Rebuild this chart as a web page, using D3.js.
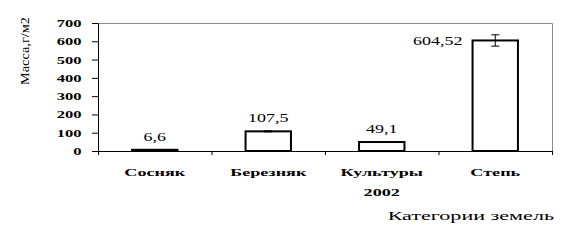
<!DOCTYPE html>
<meta charset="utf-8">
<script src="https://d3js.org/d3.v7.min.js"></script>
<style>
  body { margin: 0; background: #fff; }
  svg text { font-family: "Liberation Serif", "Times New Roman", serif; fill: #000; }
</style>
<div id="chart"></div>
<script>
// data
var categories = ["Сосняк", "Березняк", "Культуры\n2002", "Степь"];
var values = [6.6, 107.5, 49.1, 604.52];
var valueLabels = ["6,6", "107,5", "49,1", "604,52"];
var errors = [0, 3, 0, 31];
var yTicks = [0, 100, 200, 300, 400, 500, 600, 700];

var W = 566, H = 242;
var plotLeft = 98, plotRight = 552, plotTop = 23, plotBottom = 151;

var svg = d3.select("#chart").append("svg")
  .attr("width", W).attr("height", H);

var x = d3.scaleBand().domain(categories).range([plotLeft, plotRight]).padding(0);
var xEdge = d3.scaleLinear().domain([0, categories.length]).range([plotLeft, plotRight]);
var y = d3.scaleLinear().domain([0, 700]).range([plotBottom, plotTop]);

// plot frame (top and right, grey)
svg.append("path")
  .attr("d", "M" + plotLeft + "," + (plotTop + 0.5) + "H" + (plotRight + 0.5) + "V" + plotBottom)
  .attr("fill", "none").attr("stroke", "#8c8c8c").attr("stroke-width", 1);

// y axis
var yAxis = svg.append("g")
  .attr("transform", "translate(" + plotLeft + ",0)")
  .call(d3.axisLeft(y).tickValues(yTicks).tickSize(6).tickSizeOuter(0).tickFormat(d3.format("d")));
yAxis.attr("font-family", null);
yAxis.selectAll("text")
  .attr("x", null)
  .attr("dy", "0.35em")
  .attr("transform", "translate(-16.5,0) scale(1.65,1)")
  .style("font-size", "10px")
  .style("font-weight", "bold");

// x axis with ticks between categories
svg.append("g")
  .attr("transform", "translate(0," + plotBottom + ")")
  .call(d3.axisBottom(xEdge).tickValues(d3.range(categories.length + 1)).tickSize(4).tickSizeOuter(0).tickFormat(""));

svg.selectAll(".domain, .tick line").attr("stroke", "#000");

// bars
var bw = x.bandwidth() * 0.4;
svg.selectAll("rect.bar")
  .data(values)
  .enter().append("rect")
  .attr("class", "bar")
  .attr("x", function(d, i) { return x(categories[i]) + x.bandwidth() / 2 - bw / 2; })
  .attr("y", function(d) { return y(d); })
  .attr("width", bw)
  .attr("height", function(d) { return plotBottom - y(d); })
  .attr("fill", "#fff")
  .attr("stroke", "#000")
  .attr("stroke-width", 2);

// error bars
values.forEach(function(v, i) {
  if (!errors[i]) return;
  var cx = x(categories[i]) + x.bandwidth() / 2;
  var g = svg.append("g").attr("stroke", "#000").attr("stroke-width", 1);
  g.append("line").attr("x1", cx).attr("x2", cx).attr("y1", y(v + errors[i])).attr("y2", y(v - errors[i]));
  g.append("line").attr("x1", cx - 4).attr("x2", cx + 4).attr("y1", y(v + errors[i])).attr("y2", y(v + errors[i]));
  g.append("line").attr("x1", cx - 4).attr("x2", cx + 4).attr("y1", y(v - errors[i])).attr("y2", y(v - errors[i]));
});

// value labels
values.forEach(function(v, i) {
  var cx = x(categories[i]) + x.bandwidth() / 2;
  var last = i === values.length - 1;
  var tx = last ? cx - bw / 2 - 10 : cx;
  var ty = last ? y(v) + 5 : y(v) - 9;
  svg.append("text")
    .attr("transform", "translate(" + tx + "," + ty + ") scale(1.5,1)")
    .attr("text-anchor", last ? "end" : "middle")
    .style("font-size", "12px")
    .text(valueLabels[i]);
});

// category labels
categories.forEach(function(c) {
  var cx = x(c) + x.bandwidth() / 2;
  c.split("\n").forEach(function(line, k) {
    svg.append("text")
      .attr("transform", "translate(" + cx + "," + (176 + k * 20) + ") scale(1.65,1)")
      .attr("text-anchor", "middle")
      .style("font-size", "11px")
      .style("font-weight", "bold")
      .text(line);
  });
});

// axis titles
svg.append("text")
  .attr("transform", "translate(" + (plotRight + 2) + ",220) scale(1.7,1)")
  .attr("text-anchor", "end")
  .style("font-size", "13px")
  .text("Категории земель");

svg.append("text")
  .attr("transform", "translate(29,51) rotate(-90) scale(1.1,1)")
  .attr("text-anchor", "middle")
  .style("font-size", "13px")
  .text("Масса,г/м2");
</script>
